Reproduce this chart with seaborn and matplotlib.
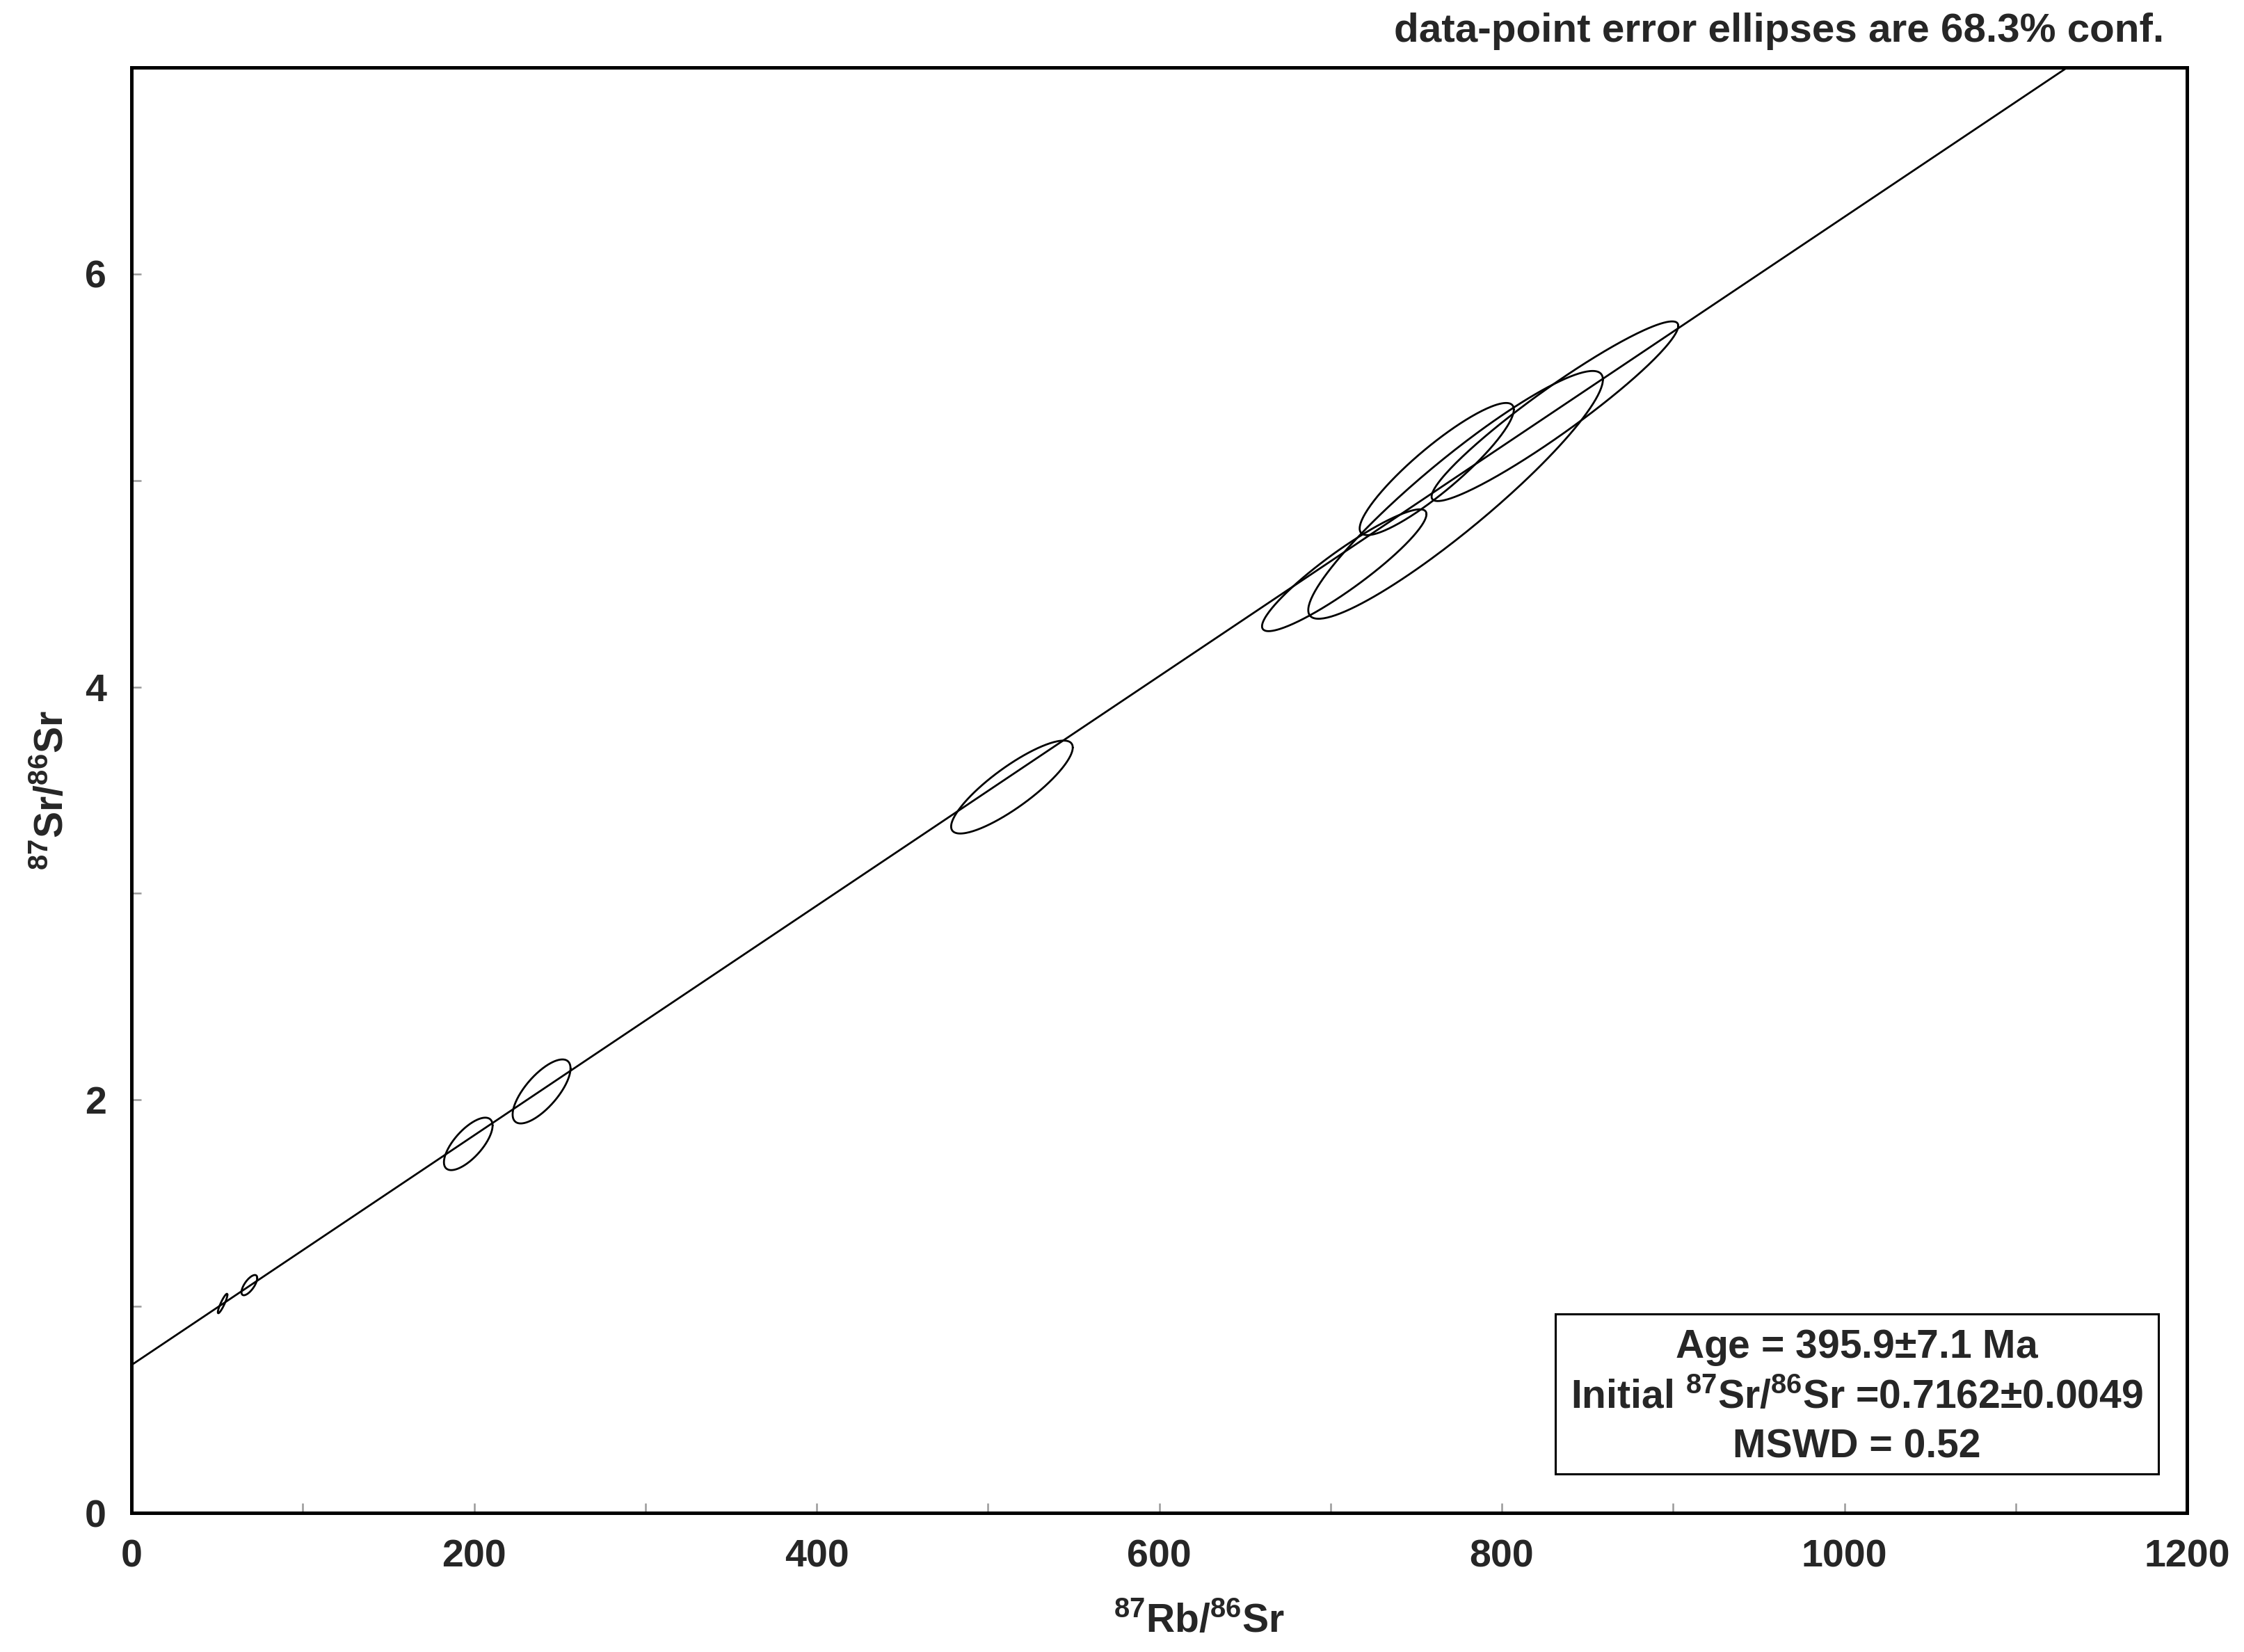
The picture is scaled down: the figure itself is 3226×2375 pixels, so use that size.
import numpy as np
import matplotlib
matplotlib.use("Agg")
import matplotlib.pyplot as plt
from matplotlib.patches import Rectangle
import seaborn as sns

# isochron fit
intercept = 0.7162
slope = 0.00556
line_x = [0, 1200]

# error ellipses: centres, half-extents (x, y) and error correlation
ell_x = [53.2, 68.8, 196.6, 239.4, 514.0, 708.0, 773.0, 762.0, 831.0]
ell_y = [1.014, 1.103, 1.787, 2.041, 3.515, 4.565, 4.93, 5.055, 5.335]
ell_dx = [2.8, 4.6, 14.2, 16.9, 35.5, 48.0, 86.0, 45.0, 72.0]
ell_dy = [0.047, 0.049, 0.127, 0.155, 0.225, 0.295, 0.60, 0.32, 0.435]
ell_rho = [0.90, 0.70, 0.70, 0.72, 0.85, 0.92, 0.93, 0.90, 0.95]

x_ticks = [0, 200, 400, 600, 800, 1000, 1200]
y_ticks = [0, 2, 4, 6]

box_lines = [r"Age = 395.9$\pm$7.1 Ma",
             r"Initial $^{87}$Sr/$^{86}$Sr =0.7162$\pm$0.0049",
             "MSWD = 0.52"]
note = "data-point error ellipses are 68.3% conf."

sns.set_theme(style="white")
plt.rcParams["font.family"] = ["Liberation Sans", "DejaVu Sans"]
plt.rcParams["font.weight"] = "bold"
plt.rcParams["mathtext.default"] = "regular"

fig = plt.figure(figsize=(32.26, 23.75), dpi=100)
ax = fig.add_axes([0.0586, 0.0842, 0.916, 0.875])

# regression line
lx = np.array(line_x, dtype=float)
sns.lineplot(x=lx, y=intercept + slope * lx, color="black", linewidth=2.0, ax=ax)

# ellipses
t = np.linspace(0, 2 * np.pi, 240)
for cx, cy, dx, dy, r in zip(ell_x, ell_y, ell_dx, ell_dy, ell_rho):
    ex = cx + dx * np.cos(t)
    ey = cy + dy * (r * np.cos(t) + np.sqrt(1 - r ** 2) * np.sin(t))
    sns.lineplot(x=ex, y=ey, sort=False, estimator=None, color="black",
                 linewidth=2.0, ax=ax)

ax.set_xlim(0, 1200)
ax.set_ylim(0, 7)
ax.set_xticks(x_ticks)
ax.set_xticks(np.arange(0, 1201, 100), minor=True)
ax.set_yticks(y_ticks)
ax.set_yticks(np.arange(0, 7.1, 1), minor=True)
ax.tick_params(which="both", direction="in", length=10, width=1.8,
               color="#999999", labelsize=40, bottom=True, left=True,
               top=False, right=False)
ax.tick_params(axis="x", pad=27)
ax.tick_params(axis="y", pad=26)
for lab in ax.get_xticklabels() + ax.get_yticklabels():
    lab.set_fontweight("bold")

for sp in ax.spines.values():
    sp.set_visible(True)
    sp.set_color("black")
    sp.set_linewidth(3.6)

ax.set_xlabel(r"$^{87}$Rb/$^{86}$Sr", fontsize=41, fontweight="bold")
ax.set_ylabel(r"$^{87}$Sr/$^{86}$Sr", fontsize=41, fontweight="bold")
ax.xaxis.set_label_coords(0.5195, -0.062)
ax.yaxis.set_label_coords(-0.029, 0.5)

# result box
ax.add_patch(Rectangle((0.6927, 0.027), 0.2934, 0.1106, transform=ax.transAxes,
                       facecolor="white", edgecolor="black", linewidth=2.2, zorder=5))
narrow = ["Liberation Sans Narrow", "Liberation Sans", "DejaVu Sans"]
for txt, yy in zip(box_lines, [0.1141, 0.0794, 0.0457]):
    ax.text(0.8393, yy, txt, transform=ax.transAxes, ha="center", va="center",
            fontsize=41, fontweight="bold", family=narrow, zorder=6)

fig.text(0.9644, 0.981, note, ha="right", va="center", fontsize=42,
         fontweight="bold", family=narrow)

fig.savefig("out.png", dpi=100)
